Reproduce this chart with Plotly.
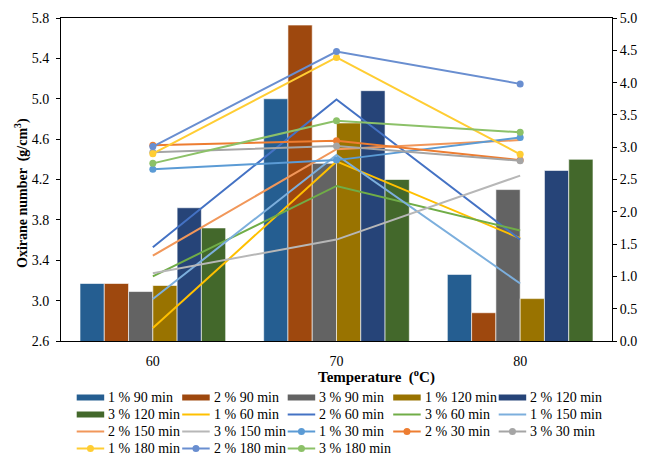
import plotly.graph_objects as go

temps = ["60", "70", "80"]
xpos = [0, 1, 2]

bar_names = ["1 % 90 min", "2 % 90 min", "3 % 90 min", "1 % 120 min", "2 % 120 min", "3 % 120 min"]
bar_vals = [
    [3.17, 5.00, 3.26],
    [3.17, 5.73, 2.88],
    [3.09, 4.36, 4.10],
    [3.15, 4.76, 3.02],
    [3.92, 5.08, 4.29],
    [3.72, 4.20, 4.40],
]
bar_colors = ["#255E91", "#9E480E", "#636363", "#997300", "#264478", "#43682B"]

line_names = ["1 % 60 min", "2 % 60 min", "3 % 60 min", "1 % 150 min", "2 % 150 min", "3 % 150 min"]
line_vals = [
    [0.20, 2.78, 1.59],
    [1.45, 3.74, 1.57],
    [1.00, 2.40, 1.71],
    [0.65, 2.88, 0.89],
    [1.32, 2.97, 3.11],
    [1.05, 1.57, 2.56],
]
line_colors = ["#FFC000", "#4472C4", "#70AD47", "#7CAFDD", "#F1975A", "#B7B7B7"]

mk_names = ["1 % 30 min", "2 % 30 min", "3 % 30 min", "1 % 180 min", "2 % 180 min", "3 % 180 min"]
mk_vals = [
    [2.66, 2.80, 3.15],
    [3.03, 3.10, 2.80],
    [2.92, 3.02, 2.79],
    [2.90, 4.39, 2.89],
    [3.01, 4.48, 3.98],
    [2.75, 3.41, 3.23],
]
mk_colors = ["#5B9BD5", "#ED7D31", "#A5A5A5", "#FFCD33", "#698ED0", "#8CC168"]

left_ticks = [2.6, 3.0, 3.4, 3.8, 4.2, 4.6, 5.0, 5.4, 5.8]
right_ticks = [0.0, 0.5, 1.0, 1.5, 2.0, 2.5, 3.0, 3.5, 4.0, 4.5, 5.0]

FONT = "'Liberation Serif', 'Times New Roman', Times, serif"
W, H = 645, 455
L, R, T, B = 61, 33, 18, 114
PW, PH = W - L - R, H - T - B

def px(x):
    return (x - L) / PW

def py(y):
    return (H - B - y) / PH

fig = go.Figure()
for n, v, c in zip(bar_names, bar_vals, bar_colors):
    fig.add_trace(go.Bar(x=xpos, y=v, name=n, showlegend=False,
                         marker=dict(color=c, line=dict(color="rgba(255,255,255,0.6)", width=1))))
for n, v, c in zip(line_names, line_vals, line_colors):
    fig.add_trace(go.Scatter(x=xpos, y=v, name=n, mode="lines", showlegend=False,
                             line=dict(color=c, width=2), yaxis="y2"))
for n, v, c in zip(mk_names, mk_vals, mk_colors):
    fig.add_trace(go.Scatter(x=xpos, y=v, name=n, mode="lines+markers", showlegend=False,
                             line=dict(color=c, width=2), marker=dict(color=c, size=7), yaxis="y2"))

# custom legend (5 columns, Excel style)
items = ([(n, c, "bar") for n, c in zip(bar_names, bar_colors)]
         + [(n, c, "line") for n, c in zip(line_names, line_colors)]
         + [(n, c, "marker") for n, c in zip(mk_names, mk_colors)])
shapes = []
for i, (n, c, kind) in enumerate(items):
    row, col = divmod(i, 5)
    x0 = 76.7 + col * 105.5
    x1 = x0 + 27.5
    yc = 397.5 + row * 17.0
    if kind == "bar":
        shapes.append(dict(type="rect", xref="paper", yref="paper", x0=px(x0), x1=px(x1),
                           y0=py(yc + 3), y1=py(yc - 3), fillcolor=c, line=dict(width=0)))
    else:
        shapes.append(dict(type="line", xref="paper", yref="paper", x0=px(x0), x1=px(x1),
                           y0=py(yc), y1=py(yc), line=dict(color=c, width=2)))
        if kind == "marker":
            xm = (x0 + x1) / 2
            shapes.append(dict(type="circle", xref="paper", yref="paper",
                               x0=px(xm - 3.5), x1=px(xm + 3.5), y0=py(yc + 3.5), y1=py(yc - 3.5),
                               fillcolor=c, line=dict(width=0)))
    fig.add_annotation(text=n, xref="paper", yref="paper", x=px(x0 + 29.5), y=py(yc),
                       xanchor="left", yanchor="middle", showarrow=False,
                       font=dict(family=FONT, size=14, color="#000"))

fig.update_layout(
    width=W, height=H,
    margin=dict(l=L, r=R, t=T, b=B, autoexpand=False),
    plot_bgcolor="white", paper_bgcolor="white",
    barmode="group", bargap=0.207, bargroupgap=0,
    font=dict(family=FONT, size=14, color="#000"),
    showlegend=False,
    shapes=shapes,
    xaxis=dict(range=[-0.5, 2.5], tickmode="array", tickvals=xpos, ticktext=temps,
               showline=True, linecolor="#000", linewidth=1, mirror=True, ticks="",
               showgrid=False, zeroline=False, ticklabelstandoff=7,
               tickfont=dict(family=FONT, size=14)),
    yaxis=dict(range=[2.6, 5.8], tickmode="array", tickvals=left_ticks,
               ticktext=[f"{t:.1f}" for t in left_ticks],
               showline=True, linecolor="#000", linewidth=1, ticks="outside", ticklen=4,
               tickcolor="#000", showgrid=False, zeroline=False, ticklabelstandoff=4,
               tickfont=dict(family=FONT, size=14)),
    yaxis2=dict(range=[0, 5], overlaying="y", side="right", tickmode="array", tickvals=right_ticks,
                ticktext=[f"{t:.1f}" for t in right_ticks],
                showline=True, linecolor="#000", linewidth=1, ticks="outside", ticklen=4,
                tickcolor="#000", showgrid=False, zeroline=False,
                tickfont=dict(family=FONT, size=14)),
)
fig.add_annotation(text="<b>Oxirane number  (g/cm<sup>3</sup>)</b>", xref="paper", yref="paper",
                   x=px(21.5), y=py(193.5), xanchor="center", yanchor="middle", textangle=-90,
                   showarrow=False, font=dict(family=FONT, size=14))
fig.add_annotation(text="<b>Temperature  (<sup>o</sup>C)</b>", xref="paper", yref="paper",
                   x=px(376), y=py(376), xanchor="center", yanchor="middle", showarrow=False,
                   font=dict(family=FONT, size=15))
fig.write_html("out.html")
